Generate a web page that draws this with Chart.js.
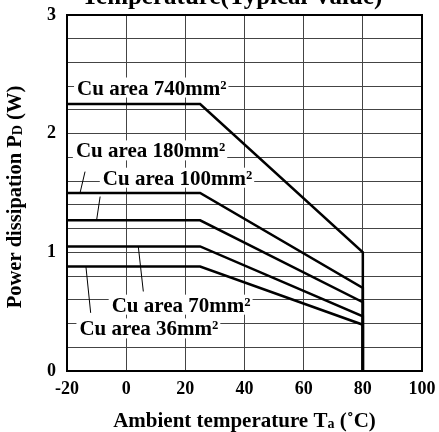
<!DOCTYPE html>
<html>
<head>
<meta charset="utf-8">
<script src="https://cdn.jsdelivr.net/npm/chart.js@4.4.0/dist/chart.umd.min.js"></script>
<style>
html, body { margin: 0; padding: 0; background: #fff; }
canvas { display: block; }
</style>
</head>
<body>
<canvas id="Derating" width="439" height="432"></canvas>
<script>
// values
const areaLabels = ['Cu area 740mm²', 'Cu area 180mm²', 'Cu area 100mm²', 'Cu area 70mm²', 'Cu area 36mm²'];
const tempStart = -20;
const tempKnee = 25;
const tempMax = 80;
const flatPower = [2.25, 1.50, 1.27, 1.05, 0.88];   // W, below the knee
const powerAtMax = [1.00, 0.70, 0.58, 0.46, 0.39];  // W, at 80 C

// where each label sits (left edge / baseline), in data units
const labelTemp = [-16.6, -17.0, -7.9, -4.9, -15.8];
const labelPower = [2.33, 1.80, 1.57, 0.50, 0.30];

// leader lines, label end -> curve end: [t1, p1, t2, p2]
const leaderLines = [
  null,
  [-13.9, 1.68, -15.6, 1.50],
  [-8.8, 1.47, -10.0, 1.27],
  [5.8, 0.67, 4.1, 1.05],
  [-12.0, 0.49, -13.6, 0.88]
];

const chartTitle = 'Temperature(Typical Value)';
const xTitleParts = [['Ambient temperature T', 21, 0], ['a', 14, 1], [' (˚C)', 21, 0]];
const yTitleParts = [['Power dissipation P', 20.5, 0], ['D', 14, 1], [' (W)', 20.5, 0]];

const serif = '"Liberation Serif", "Times New Roman", serif';

let datasets = flatPower.map(function(p, i) {
  return {
    label: areaLabels[i],
    data: [
      {x: tempStart, y: p},
      {x: tempKnee, y: p},
      {x: tempMax, y: powerAtMax[i]},
      {x: tempMax, y: 0}
    ],
    borderColor: '#000',
    borderWidth: 2.5,
    pointRadius: 0,
    tension: 0,
    fill: false
  };
});

function drawRichText(ctx, parts, cx, baseY) {
  let total = 0;
  parts.forEach(function(p) {
    ctx.font = 'bold ' + p[1] + 'px ' + serif;
    total += ctx.measureText(p[0]).width;
  });
  let cur = cx - total / 2;
  parts.forEach(function(p) {
    ctx.font = 'bold ' + p[1] + 'px ' + serif;
    ctx.fillText(p[0], cur, baseY + p[2]);
    cur += ctx.measureText(p[0]).width;
  });
}

const overlay = {
  id: 'overlay',
  afterDatasetsDraw(chart) {
    const ctx = chart.ctx;
    const area = chart.chartArea;
    const xs = chart.scales.x;
    const ys = chart.scales.y;
    ctx.save();

    // frame
    ctx.strokeStyle = '#000';
    ctx.lineWidth = 2;
    ctx.strokeRect(area.left, area.top, area.right - area.left, area.bottom - area.top);

    // labels on white boxes
    ctx.font = 'bold 21px ' + serif;
    ctx.textBaseline = 'alphabetic';
    ctx.textAlign = 'left';
    areaLabels.forEach(function(txt, i) {
      const px = xs.getPixelForValue(labelTemp[i]);
      const py = ys.getPixelForValue(labelPower[i]);
      const w = ctx.measureText(txt).width;
      ctx.fillStyle = '#fff';
      ctx.fillRect(px - 3, py - 17, w + 5, 20);
      ctx.fillStyle = '#000';
      ctx.fillText(txt, px, py);
    });

    // leader lines
    ctx.lineWidth = 1;
    leaderLines.forEach(function(l) {
      if (!l) return;
      ctx.beginPath();
      ctx.moveTo(xs.getPixelForValue(l[0]), ys.getPixelForValue(l[1]));
      ctx.lineTo(xs.getPixelForValue(l[2]), ys.getPixelForValue(l[3]));
      ctx.stroke();
    });
    ctx.restore();
  },
  afterDraw(chart) {
    const ctx = chart.ctx;
    const area = chart.chartArea;
    ctx.save();
    ctx.fillStyle = '#000';
    ctx.textBaseline = 'alphabetic';
    ctx.textAlign = 'left';

    // title, cut off by the top edge like the reference
    drawRichText(ctx, [[chartTitle, 25, 0]], 232, 4);

    // x axis title
    drawRichText(ctx, xTitleParts, (area.left + area.right) / 2, 427);

    // y axis title, turned to read upwards
    ctx.translate(21, 197);
    ctx.rotate(-Math.PI / 2);
    drawRichText(ctx, yTitleParts, 0, 0);
    ctx.restore();
  }
};

const tickFont = {family: serif, size: 18, weight: 'bold'};

const chart = new Chart(document.getElementById('Derating'), {
  type: 'line',
  data: {datasets: datasets},
  options: {
    responsive: false,
    animation: false,
    devicePixelRatio: 1,
    layout: {padding: {top: 15, right: 17, left: 0, bottom: 0}},
    plugins: {
      legend: {display: false},
      tooltip: {enabled: false},
      title: {display: false}
    },
    scales: {
      x: {
        type: 'linear',
        min: -20,
        max: 100,
        ticks: {stepSize: 20, color: '#000', font: tickFont, padding: 8, maxRotation: 0},
        grid: {color: '#444', lineWidth: 1, drawTicks: false},
        border: {display: false},
        afterFit: function(scale) {
          scale.height = 61;
          scale.paddingLeft = 0;
          scale.paddingRight = 0;
        }
      },
      y: {
        min: 0,
        max: 3,
        ticks: {
          stepSize: 0.2,
          autoSkip: false,
          color: '#000',
          font: tickFont,
          padding: 11,
          callback: function(v) {
            const r = Math.round(v);
            return Math.abs(v - r) < 1e-6 ? String(r) : '';
          }
        },
        grid: {color: '#444', lineWidth: 1, drawTicks: false},
        border: {display: false},
        afterFit: function(scale) {
          scale.width = 67;
          scale.paddingTop = 0;
          scale.paddingBottom = 0;
        }
      }
    }
  },
  plugins: [overlay]
});
</script>
</body>
</html>
